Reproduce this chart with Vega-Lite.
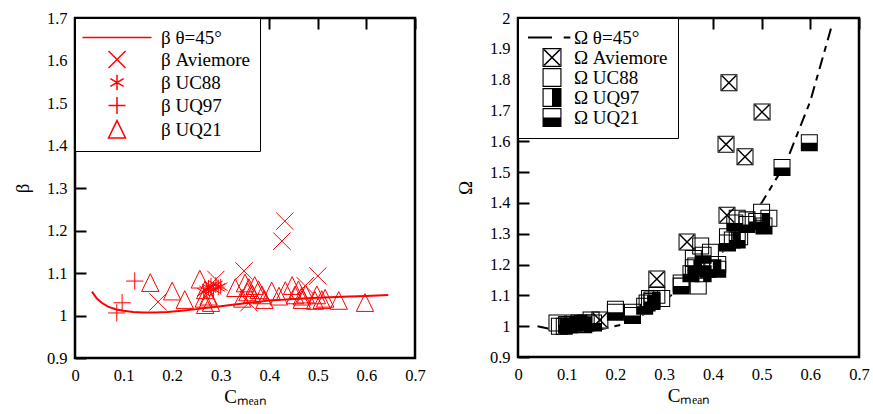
{
  "$schema": "https://vega.github.io/schema/vega-lite/v6.json",
  "autosize": {"type": "pad"},
  "padding": {"left": 12, "top": 8, "right": 5, "bottom": 2},
  "background": "white",
  "spacing": 103,
  "bounds": "flush",
  "resolve": {"scale": {"shape": "independent"}, "legend": {"shape": "independent"}},
  "config": {
    "font": "Liberation Serif",
    "view": {"stroke": "black", "strokeWidth": 2.5},
    "axis": {
      "labelFont": "Liberation Serif", "labelFontSize": 16.5, "labelColor": "black",
      "titleFont": "Liberation Serif", "titleFontSize": 19, "titleColor": "black", "titleFontWeight": "normal",
      "domain": false, "ticks": false, "tickSize": 0, "labelFlush": false, "labelOverlap": false,
      "grid": true, "gridColor": "black", "gridOpacity": 1, "gridWidth": 2, "gridDash": [11, 2000]
    },
    "axisX": {"labelPadding": 9, "titlePadding": 4},
    "axisY": {"labelPadding": 8, "titlePadding": 14},
    "legend": {
      "labelFont": "Liberation Serif", "labelFontSize": 19, "labelColor": "black",
      "strokeColor": "black", "fillColor": "white", "orient": "top-left", "offset": 0,
      "rowPadding": 0
    }
  },
  "datasets": {
    "beta": [
      {"C": 0.035, "v": 1.056, "s": "β θ=45°"}, {"C": 0.045, "v": 1.04, "s": "β θ=45°"}, {"C": 0.055, "v": 1.03, "s": "β θ=45°"},
      {"C": 0.068, "v": 1.021, "s": "β θ=45°"}, {"C": 0.085, "v": 1.014, "s": "β θ=45°"}, {"C": 0.1, "v": 1.011, "s": "β θ=45°"},
      {"C": 0.12, "v": 1.008, "s": "β θ=45°"}, {"C": 0.14, "v": 1.007, "s": "β θ=45°"}, {"C": 0.165, "v": 1.007, "s": "β θ=45°"},
      {"C": 0.19, "v": 1.008, "s": "β θ=45°"}, {"C": 0.22, "v": 1.011, "s": "β θ=45°"}, {"C": 0.25, "v": 1.015, "s": "β θ=45°"},
      {"C": 0.3, "v": 1.022, "s": "β θ=45°"}, {"C": 0.35, "v": 1.029, "s": "β θ=45°"}, {"C": 0.4, "v": 1.035, "s": "β θ=45°"},
      {"C": 0.45, "v": 1.039, "s": "β θ=45°"}, {"C": 0.5, "v": 1.042, "s": "β θ=45°"}, {"C": 0.55, "v": 1.044, "s": "β θ=45°"},
      {"C": 0.6, "v": 1.046, "s": "β θ=45°"}, {"C": 0.645, "v": 1.048, "s": "β θ=45°"},
      {"C": 0.432, "v": 1.222, "s": "β Aviemore"}, {"C": 0.426, "v": 1.175, "s": "β Aviemore"}, {"C": 0.348, "v": 1.105, "s": "β Aviemore"},
      {"C": 0.5, "v": 1.093, "s": "β Aviemore"}, {"C": 0.29, "v": 1.085, "s": "β Aviemore"}, {"C": 0.171, "v": 1.032, "s": "β Aviemore"},
      {"C": 0.358, "v": 1.03, "s": "β Aviemore"}, {"C": 0.474, "v": 1.07, "s": "β Aviemore"},
      {"C": 0.265, "v": 1.055, "s": "β UC88"}, {"C": 0.27, "v": 1.06, "s": "β UC88"}, {"C": 0.275, "v": 1.065, "s": "β UC88"},
      {"C": 0.28, "v": 1.07, "s": "β UC88"}, {"C": 0.285, "v": 1.062, "s": "β UC88"}, {"C": 0.29, "v": 1.072, "s": "β UC88"},
      {"C": 0.295, "v": 1.066, "s": "β UC88"}, {"C": 0.3, "v": 1.068, "s": "β UC88"},
      {"C": 0.086, "v": 1.006, "s": "β UQ97"}, {"C": 0.097, "v": 1.03, "s": "β UQ97"}, {"C": 0.123, "v": 1.081, "s": "β UQ97"},
      {"C": 0.155, "v": 1.077, "s": "β UQ21"}, {"C": 0.2, "v": 1.057, "s": "β UQ21"}, {"C": 0.226, "v": 1.037, "s": "β UQ21"},
      {"C": 0.257, "v": 1.085, "s": "β UQ21"}, {"C": 0.265, "v": 1.04, "s": "β UQ21"}, {"C": 0.268, "v": 1.06, "s": "β UQ21"},
      {"C": 0.268, "v": 1.025, "s": "β UQ21"}, {"C": 0.275, "v": 1.045, "s": "β UQ21"}, {"C": 0.28, "v": 1.03, "s": "β UQ21"},
      {"C": 0.33, "v": 1.065, "s": "β UQ21"}, {"C": 0.344, "v": 1.04, "s": "β UQ21"}, {"C": 0.35, "v": 1.076, "s": "β UQ21"},
      {"C": 0.355, "v": 1.055, "s": "β UQ21"}, {"C": 0.358, "v": 1.065, "s": "β UQ21"}, {"C": 0.365, "v": 1.05, "s": "β UQ21"},
      {"C": 0.37, "v": 1.07, "s": "β UQ21"}, {"C": 0.378, "v": 1.06, "s": "β UQ21"}, {"C": 0.385, "v": 1.048, "s": "β UQ21"},
      {"C": 0.39, "v": 1.037, "s": "β UQ21"}, {"C": 0.405, "v": 1.057, "s": "β UQ21"}, {"C": 0.42, "v": 1.045, "s": "β UQ21"},
      {"C": 0.433, "v": 1.058, "s": "β UQ21"}, {"C": 0.447, "v": 1.07, "s": "β UQ21"}, {"C": 0.453, "v": 1.048, "s": "β UQ21"},
      {"C": 0.46, "v": 1.06, "s": "β UQ21"}, {"C": 0.467, "v": 1.045, "s": "β UQ21"}, {"C": 0.467, "v": 1.037, "s": "β UQ21"},
      {"C": 0.475, "v": 1.05, "s": "β UQ21"}, {"C": 0.494, "v": 1.035, "s": "β UQ21"}, {"C": 0.498, "v": 1.048, "s": "β UQ21"},
      {"C": 0.508, "v": 1.037, "s": "β UQ21"}, {"C": 0.515, "v": 1.04, "s": "β UQ21"}, {"C": 0.543, "v": 1.035, "s": "β UQ21"},
      {"C": 0.597, "v": 1.03, "s": "β UQ21"}
    ],
    "omega": [
      {"C": 0.04, "v": 1.0, "s": "Ω θ=45°"}, {"C": 0.075, "v": 0.988, "s": "Ω θ=45°"}, {"C": 0.12, "v": 0.98, "s": "Ω θ=45°"},
      {"C": 0.17, "v": 0.99, "s": "Ω θ=45°"}, {"C": 0.21, "v": 1.004, "s": "Ω θ=45°"}, {"C": 0.26, "v": 1.04, "s": "Ω θ=45°"},
      {"C": 0.3, "v": 1.08, "s": "Ω θ=45°"}, {"C": 0.35, "v": 1.15, "s": "Ω θ=45°"}, {"C": 0.4, "v": 1.21, "s": "Ω θ=45°"},
      {"C": 0.45, "v": 1.29, "s": "Ω θ=45°"}, {"C": 0.5, "v": 1.4, "s": "Ω θ=45°"}, {"C": 0.55, "v": 1.53, "s": "Ω θ=45°"},
      {"C": 0.6, "v": 1.73, "s": "Ω θ=45°"}, {"C": 0.645, "v": 1.98, "s": "Ω θ=45°"},
      {"C": 0.08, "v": 1.01, "s": "Ω UC88"}, {"C": 0.1, "v": 1.005, "s": "Ω UC88"}, {"C": 0.15, "v": 1.02, "s": "Ω UC88"},
      {"C": 0.2, "v": 1.055, "s": "Ω UC88"}, {"C": 0.235, "v": 1.045, "s": "Ω UC88"}, {"C": 0.27, "v": 1.09, "s": "Ω UC88"},
      {"C": 0.285, "v": 1.1, "s": "Ω UC88"}, {"C": 0.295, "v": 1.09, "s": "Ω UC88"}, {"C": 0.335, "v": 1.14, "s": "Ω UC88"},
      {"C": 0.37, "v": 1.13, "s": "Ω UC88"}, {"C": 0.375, "v": 1.26, "s": "Ω UC88"}, {"C": 0.395, "v": 1.24, "s": "Ω UC88"},
      {"C": 0.41, "v": 1.2, "s": "Ω UC88"}, {"C": 0.43, "v": 1.29, "s": "Ω UC88"}, {"C": 0.455, "v": 1.29, "s": "Ω UC88"},
      {"C": 0.45, "v": 1.35, "s": "Ω UC88"}, {"C": 0.47, "v": 1.345, "s": "Ω UC88"}, {"C": 0.5, "v": 1.37, "s": "Ω UC88"},
      {"C": 0.515, "v": 1.35, "s": "Ω UC88"}, {"C": 0.36, "v": 1.22, "s": "Ω UC88"},
      {"C": 0.085, "v": 1.0, "s": "Ω UQ97"}, {"C": 0.095, "v": 1.0, "s": "Ω UQ97"}, {"C": 0.105, "v": 1.005, "s": "Ω UQ97"},
      {"C": 0.115, "v": 1.01, "s": "Ω UQ97"}, {"C": 0.125, "v": 1.01, "s": "Ω UQ97"}, {"C": 0.135, "v": 1.005, "s": "Ω UQ97"},
      {"C": 0.265, "v": 1.075, "s": "Ω UQ97"}, {"C": 0.275, "v": 1.085, "s": "Ω UQ97"}, {"C": 0.36, "v": 1.19, "s": "Ω UQ97"},
      {"C": 0.38, "v": 1.17, "s": "Ω UQ97"}, {"C": 0.4, "v": 1.19, "s": "Ω UQ97"}, {"C": 0.44, "v": 1.28, "s": "Ω UQ97"},
      {"C": 0.5, "v": 1.34, "s": "Ω UQ97"},
      {"C": 0.1, "v": 1.005, "s": "Ω UQ21"}, {"C": 0.14, "v": 1.01, "s": "Ω UQ21"}, {"C": 0.155, "v": 1.01, "s": "Ω UQ21"},
      {"C": 0.2, "v": 1.045, "s": "Ω UQ21"}, {"C": 0.235, "v": 1.035, "s": "Ω UQ21"}, {"C": 0.26, "v": 1.065, "s": "Ω UQ21"},
      {"C": 0.275, "v": 1.08, "s": "Ω UQ21"}, {"C": 0.335, "v": 1.13, "s": "Ω UQ21"}, {"C": 0.355, "v": 1.17, "s": "Ω UQ21"},
      {"C": 0.365, "v": 1.195, "s": "Ω UQ21"}, {"C": 0.38, "v": 1.23, "s": "Ω UQ21"}, {"C": 0.39, "v": 1.185, "s": "Ω UQ21"},
      {"C": 0.41, "v": 1.185, "s": "Ω UQ21"}, {"C": 0.43, "v": 1.27, "s": "Ω UQ21"}, {"C": 0.45, "v": 1.28, "s": "Ω UQ21"},
      {"C": 0.445, "v": 1.335, "s": "Ω UQ21"}, {"C": 0.47, "v": 1.33, "s": "Ω UQ21"}, {"C": 0.49, "v": 1.34, "s": "Ω UQ21"},
      {"C": 0.505, "v": 1.325, "s": "Ω UQ21"}, {"C": 0.542, "v": 1.515, "s": "Ω UQ21"}, {"C": 0.598, "v": 1.595, "s": "Ω UQ21"},
      {"C": 0.433, "v": 1.79, "s": "Ω Aviemore"}, {"C": 0.501, "v": 1.695, "s": "Ω Aviemore"}, {"C": 0.427, "v": 1.59, "s": "Ω Aviemore"},
      {"C": 0.466, "v": 1.55, "s": "Ω Aviemore"}, {"C": 0.429, "v": 1.36, "s": "Ω Aviemore"}, {"C": 0.347, "v": 1.273, "s": "Ω Aviemore"},
      {"C": 0.285, "v": 1.153, "s": "Ω Aviemore"}, {"C": 0.168, "v": 1.02, "s": "Ω Aviemore"}
    ]
  },
  "hconcat": [
    {
      "width": 340, "height": 340,
      "data": {"name": "beta"},
      "resolve": {"axis": {"x": "independent", "y": "independent"}},
      "layer": [
        {
          "transform": [{"filter": "datum.s == 'β θ=45°'"}],
          "mark": {"type": "line", "color": "#ff0000", "strokeWidth": 2},
          "encoding": {
            "x": {"field": "C", "type": "quantitative", "scale": {"domain": [0, 0.7], "nice": false, "zero": false},
                  "axis": {"orient": "bottom", "values": [0, 0.1, 0.2, 0.3, 0.4, 0.5, 0.6, 0.7], "format": "~g", "title": "Cₘₑₐₙ"}},
            "y": {"field": "v", "type": "quantitative", "scale": {"domain": [0.9, 1.7], "nice": false, "zero": false},
                  "axis": {"orient": "left", "values": [0.9, 1, 1.1, 1.2, 1.3, 1.4, 1.5, 1.6, 1.7], "format": "~g", "title": "β"}}
          }
        },
        {
          "transform": [{"filter": "datum.s != 'β θ=45°'"}],
          "mark": {"type": "point", "filled": false, "stroke": "#ff0000", "strokeWidth": 1, "size": 300, "opacity": 1},
          "encoding": {
            "x": {"field": "C", "type": "quantitative",
                  "axis": {"orient": "top", "values": [0, 0.1, 0.2, 0.3, 0.4, 0.5, 0.6, 0.7], "labels": false, "title": null}},
            "y": {"field": "v", "type": "quantitative",
                  "axis": {"orient": "right", "values": [0.9, 1, 1.1, 1.2, 1.3, 1.4, 1.5, 1.6, 1.7], "labels": false, "title": null}},
            "shape": {
              "field": "s", "type": "nominal",
              "scale": {
                "domain": ["β θ=45°", "β Aviemore", "β UC88", "β UQ97", "β UQ21"],
                "range": ["M-4.06,0L4.06,0", "M-1,-1L1,1M-1,1L1,-1", "M0,-0.9L0,0.9M-0.78,-0.45L0.78,0.45M-0.78,0.45L0.78,-0.45", "M-1,0L1,0M0,-1L0,1", "M0,-1.05L1,1L-1,1Z"]
              },
              "legend": {
                "title": null, "symbolSize": 289, "padding": 10, "symbolOffset": 22.5, "labelOffset": 34.5,
                "symbolStrokeColor": "#ff0000", "symbolFillColor": "transparent", "symbolStrokeWidth": 1.5,
                "encode": {
                  "legend": {"update": {"strokeWidth": {"value": 2}}}
                }
              }
            }
          }
        }
      ]
    },
    {
      "width": 341, "height": 339,
      "data": {"name": "omega"},
      "resolve": {"axis": {"x": "independent", "y": "independent"}},
      "layer": [
        {
          "transform": [{"filter": "datum.s == 'Ω θ=45°'"}],
          "mark": {"type": "line", "color": "black", "strokeWidth": 2, "strokeDash": [12, 6, 6, 6]},
          "encoding": {
            "x": {"field": "C", "type": "quantitative", "scale": {"domain": [0, 0.7], "nice": false, "zero": false},
                  "axis": {"orient": "bottom", "values": [0, 0.1, 0.2, 0.3, 0.4, 0.5, 0.6, 0.7], "format": "~g", "title": "Cₘₑₐₙ"}},
            "y": {"field": "v", "type": "quantitative", "scale": {"domain": [0.9, 2], "nice": false, "zero": false},
                  "axis": {"orient": "left", "values": [0.9, 1, 1.1, 1.2, 1.3, 1.4, 1.5, 1.6, 1.7, 1.8, 1.9, 2], "format": "~g", "title": "Ω"}}
          }
        },
        {
          "transform": [{"filter": "datum.s != 'Ω θ=45°'"}],
          "mark": {"type": "point", "filled": true, "fill": "white", "strokeWidth": 0, "size": 289, "opacity": 1, "shape": "square"},
          "encoding": {
            "x": {"field": "C", "type": "quantitative", "axis": null},
            "y": {"field": "v", "type": "quantitative", "axis": null}
          }
        },
        {
          "transform": [{"filter": "datum.s != 'Ω θ=45°'"}],
          "mark": {"type": "point", "filled": true, "color": "#000000", "strokeWidth": 0, "size": 289, "opacity": 1},
          "encoding": {
            "x": {"field": "C", "type": "quantitative",
                  "axis": {"orient": "top", "values": [0, 0.1, 0.2, 0.3, 0.4, 0.5, 0.6, 0.7], "labels": false, "title": null}},
            "y": {"field": "v", "type": "quantitative",
                  "axis": {"orient": "right", "values": [0.9, 1, 1.1, 1.2, 1.3, 1.4, 1.5, 1.6, 1.7, 1.8, 1.9, 2], "labels": false, "title": null}},
            "shape": {
              "field": "s", "type": "nominal",
              "scale": {
                "domain": ["Ω θ=45°", "Ω Aviemore", "Ω UC88", "Ω UQ97", "Ω UQ21"],
                "range": [
                  "M-2.53,-0.1L0,-0.1L0,0.1L-2.53,0.1ZM1.23,-0.1L1.93,-0.1L1.93,0.1L1.23,0.1Z",
                  "M-1,-1L1,-1L1,1L-1,1ZM-0.88,-0.88L-0.88,0.88L0.88,0.88L0.88,-0.88ZM-0.88,-0.76L-0.76,-0.88L0.88,0.76L0.76,0.88ZM0.76,-0.88L0.88,-0.76L-0.76,0.88L-0.88,0.76Z",
                  "M-1,-1L1,-1L1,1L-1,1ZM-0.88,-0.88L-0.88,0.88L0.88,0.88L0.88,-0.88Z",
                  "M-1,-1L1,-1L1,1L-1,1ZM-0.88,-0.88L-0.88,0.88L0.88,0.88L0.88,-0.88ZM0,-0.88L0.88,-0.88L0.88,0.88L0,0.88Z",
                  "M-1,-1L1,-1L1,1L-1,1ZM-0.88,-0.88L-0.88,0.88L0.88,0.88L0.88,-0.88ZM-0.88,0L0.88,0L0.88,0.88L-0.88,0.88Z"
                ]
              },
              "legend": {
                "title": null, "symbolSize": 361, "padding": 10, "symbolOffset": 14.5, "labelOffset": 12.5, "rowPadding": -1.5,
                "symbolFillColor": "#000000", "symbolStrokeWidth": 0,
                "encode": {
                  "legend": {"update": {"strokeWidth": {"value": 2}}},
                  "symbols": {"update": {"fill": {"value": "#000000"}, "fillOpacity": {"value": 1}}}
                }
              }
            }
          }
        }
      ]
    }
  ]
}
